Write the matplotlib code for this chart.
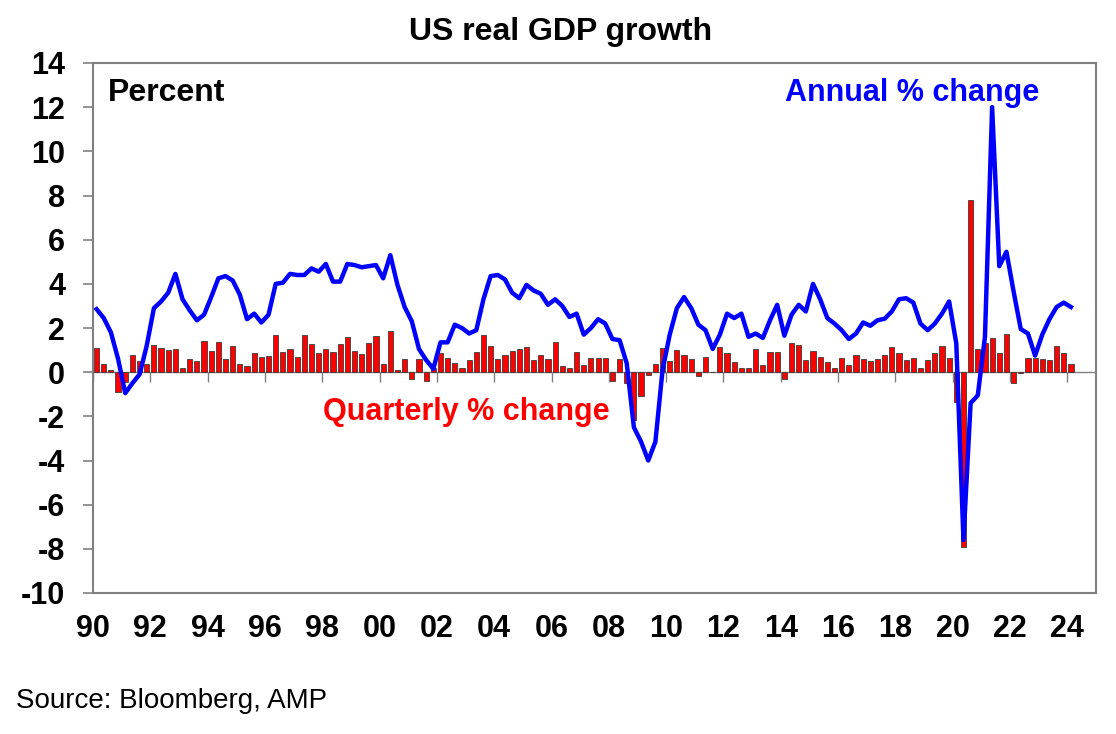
import numpy as np
import matplotlib.pyplot as plt

plt.rcParams['font.family'] = ['Liberation Sans', 'DejaVu Sans']
plt.rcParams['axes.unicode_minus'] = False

# quarterly % change, 1990Q1 .. 2024Q1
qoq = [
    1.1, 0.38, 0.08, -0.9,      # 1990
    -0.45, 0.8, 0.5, 0.35,      # 1991
    1.21, 1.1, 1.01, 1.06,      # 1992
    0.18, 0.6, 0.5, 1.39,       # 1993
    0.98, 1.36, 0.6, 1.17,      # 1994
    0.38, 0.3, 0.86, 0.68,      # 1995
    0.72, 1.7, 0.9, 1.06,       # 1996
    0.68, 1.67, 1.26, 0.86,     # 1997
    1.03, 0.9, 1.26, 1.6,       # 1998
    0.94, 0.83, 1.33, 1.65,     # 1999
    0.36, 1.85, 0.1, 0.6,       # 2000
    -0.3, 0.6, -0.4, 0.2,       # 2001
    0.85, 0.65, 0.4, 0.17,      # 2002
    0.55, 0.92, 1.68, 1.2,      # 2003
    0.58, 0.77, 0.97, 1.03,     # 2004
    1.12, 0.55, 0.8, 0.6,       # 2005
    1.38, 0.27, 0.17, 0.9,      # 2006
    0.32, 0.65, 0.65, 0.65,     # 2007
    -0.4, 0.6, -0.5, -2.15,     # 2008
    -1.1, -0.14, 0.36, 1.1,     # 2009
    0.5, 1.0, 0.8, 0.58,        # 2010
    -0.18, 0.7, 0.03, 1.15,     # 2011
    0.88, 0.47, 0.17, 0.17,     # 2012
    1.03, 0.32, 0.9, 0.9,       # 2013
    -0.32, 1.33, 1.23, 0.55,    # 2014
    0.95, 0.67, 0.44, 0.21,     # 2015
    0.62, 0.32, 0.77, 0.59,     # 2016
    0.52, 0.59, 0.8, 1.15,      # 2017
    0.85, 0.55, 0.65, 0.17,     # 2018
    0.55, 0.85, 1.18, 0.65,     # 2019
    -1.33, -7.9, 7.8, 1.07,     # 2020
    1.3, 1.56, 0.85, 1.71,      # 2021
    -0.47, -0.06, 0.65, 0.62,   # 2022
    0.59, 0.55, 1.2, 0.85,      # 2023
    0.39,                       # 2024
]

# annual % change (year on year), same quarters
yoy = [
    2.85, 2.45, 1.8, 0.6,
    -0.95, -0.5, -0.1, 1.2,
    2.9, 3.2, 3.6, 4.45,
    3.3, 2.8, 2.35, 2.6,
    3.4, 4.25, 4.35, 4.15,
    3.5, 2.4, 2.65, 2.25,
    2.6, 4.0, 4.05, 4.45,
    4.4, 4.4, 4.7, 4.55,
    4.9, 4.1, 4.1, 4.9,
    4.85, 4.75, 4.8, 4.85,
    4.25, 5.3, 3.95, 2.95,
    2.3, 1.05, 0.55, 0.15,
    1.35, 1.35, 2.15, 2.0,
    1.75, 1.9, 3.3, 4.35,
    4.4, 4.2, 3.6, 3.35,
    3.95, 3.7, 3.55, 3.05,
    3.3, 3.0, 2.5, 2.65,
    1.7, 2.0, 2.4, 2.2,
    1.5, 1.45, 0.4, -2.5,
    -3.15, -4.0, -3.15, 0.1,
    1.7, 2.9, 3.4, 2.9,
    2.15, 1.9, 1.05, 1.7,
    2.65, 2.45, 2.65, 1.6,
    1.75, 1.55, 2.35, 3.05,
    1.65, 2.6, 3.05, 2.75,
    4.0, 3.3, 2.45, 2.2,
    1.9, 1.5, 1.75, 2.25,
    2.1, 2.35, 2.42, 2.75,
    3.3, 3.35, 3.15, 2.2,
    1.9, 2.2, 2.65, 3.2,
    1.3, -7.6, -1.4, -1.05,
    1.6, 12.0, 4.8, 5.45,
    3.65, 1.95, 1.75, 0.75,
    1.7, 2.4, 2.95, 3.15,
    2.95,
]

start_year = 1990
tick_years = list(range(1990, 2025, 2))
tick_labels = ['%02d' % (y % 100) for y in tick_years]
y_ticks = list(range(-10, 15, 2))

# quarter centres in fractional years
x = start_year + (np.arange(len(qoq)) + 0.5) / 4

fig = plt.figure(figsize=(11.16, 7.34), dpi=100)
ax = fig.add_axes([93 / 1116, 1 - 593 / 734, 1003 / 1116, 530 / 734])

grey = '#808080'
ax.bar(x, qoq, width=0.18, color='#ff0000', edgecolor='#3a3a3a', linewidth=0.6, zorder=2)
ax.plot(x, yoy, color='#0000ff', linewidth=3.2, zorder=3, solid_joinstyle='round')

# zero line with its own tick marks
ax.axhline(0, color=grey, linewidth=1.0, zorder=1)
ax.vlines(tick_years, -0.45, 0, color=grey, linewidth=1.0, zorder=1)

ax.set_xlim(1990, 2025)
ax.set_ylim(-10, 14)
ax.set_xticks(tick_years)
ax.set_xticklabels(tick_labels)
ax.set_yticks(y_ticks)
ax.set_yticklabels([str(v) for v in y_ticks])
ax.tick_params(axis='x', length=0, pad=15, labelsize=22)
ax.tick_params(axis='y', length=7, width=1.2, color=grey, direction='out', pad=13, labelsize=22)
for lab in ax.get_xticklabels() + ax.get_yticklabels():
    lab.set_fontweight('bold')

for s in ax.spines.values():
    s.set_color(grey)
    s.set_linewidth(1.5)

ax.text(0.015, 0.928, 'Percent', transform=ax.transAxes, fontsize=23,
        fontweight='bold', color='black', va='baseline', ha='left')
ax.text(0.690, 0.928, 'Annual % change', transform=ax.transAxes, fontsize=22,
        fontweight='bold', color='#0000ff', va='baseline', ha='left')
ax.text(0.229, 0.3264, 'Quarterly % change', transform=ax.transAxes, fontsize=22,
        fontweight='bold', color='#ff0000', va='baseline', ha='left')

fig.text(561 / 1116, 1 - 40 / 734, 'US real GDP growth', fontsize=23,
         fontweight='bold', ha='center', va='baseline')
fig.text(16 / 1116, 1 - 708 / 734, 'Source: Bloomberg, AMP', fontsize=20,
         ha='left', va='baseline')

fig.savefig('out.png', dpi=100)
